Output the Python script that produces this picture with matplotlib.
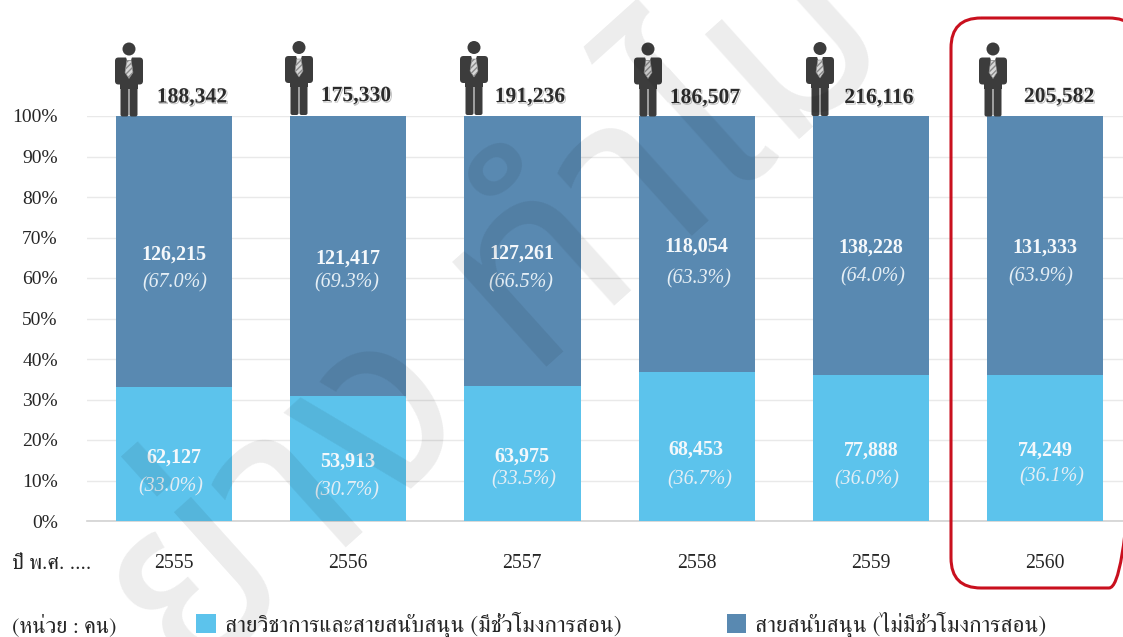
import matplotlib
matplotlib.use('Agg')
import matplotlib.pyplot as plt
import matplotlib.patheffects as pe
from matplotlib.patches import Circle, FancyBboxPatch, Rectangle, Polygon

years = ['2555', '2556', '2557', '2558', '2559', '2560']
totals = [188342, 175330, 191236, 186507, 216116, 205582]
academic = [62127, 53913, 63975, 68453, 77888, 74249]
support = [126215, 121417, 127261, 118054, 138228, 131333]
academic_pct = [33.0, 30.7, 33.5, 36.7, 36.0, 36.1]
support_pct = [67.0, 69.3, 66.5, 63.3, 64.0, 63.9]
academic_name = 'สายวิชาการและสายสนับสนุน (มีชั่วโมงการสอน)'
support_name = 'สายสนับสนุน (ไม่มีชั่วโมงการสอน)'
year_title = 'ปี พ.ศ. ....'
unit_text = '(หน่วย : คน)'
watermark = 'ย่าง ทำไม'

W, H = 1123, 637
LIGHT, DARK = '#5CC3EC', '#5989B1'
SERIF = ['Liberation Serif', 'FreeSerif']
THAI = ['FreeSerif', 'Liberation Serif']
plt.rcParams['font.family'] = SERIF

fig = plt.figure(figsize=(W / 100, H / 100), dpi=100)
fig.patch.set_facecolor('white')

# plot area (pixel layout)
L, R, T, B = 87, 1123, 116, 521
ax = fig.add_axes([L / W, 1 - B / H, (R - L) / W, (B - T) / H])
x = list(range(len(years)))
acad_share = [a / (a + s) * 100 for a, s in zip(academic, support)]
supp_share = [s / (a + s) * 100 for a, s in zip(academic, support)]
b1 = ax.bar(x, acad_share, width=0.667, color=LIGHT, zorder=3, label=academic_name)
b2 = ax.bar(x, supp_share, bottom=acad_share, width=0.667, color=DARK, zorder=3, label=support_name)
ax.set_xlim(-0.5, -0.5 + (R - L) / 174.2)
ax.set_ylim(0, 100)
ax.set_yticks(range(0, 101, 10))
ax.set_yticklabels([f'{v}%' for v in range(0, 101, 10)], fontsize=14, color='#262626')
ax.set_xticks([])
ax.tick_params(axis='y', length=0, pad=21)
ax.grid(axis='y', color='#E9E9E9', lw=1, zorder=0)
ax.set_axisbelow(True)
for s in ['top', 'right', 'left']:
    ax.spines[s].set_visible(False)
ax.spines['bottom'].set_color('#D2D2D2')
ax.spines['bottom'].set_linewidth(1.2)
ax.patch.set_alpha(0)

leg = fig.legend(handles=[b1, b2], loc='lower left', bbox_to_anchor=(187 / W, -11 / H), ncols=2,
                 frameon=False, prop={'family': THAI, 'size': 16.7}, handlelength=0.83, handleheight=0.83,
                 handletextpad=0.39, columnspacing=4.55, borderpad=0.4, borderaxespad=0)
for t in leg.get_texts():
    t.set_color('#262626')

# overlay in image pixels
ov = fig.add_axes([0, 0, 1, 1], zorder=5)
ov.set_xlim(0, W)
ov.set_ylim(H, 0)
ov.axis('off')

centres = [174, 348, 522, 697, 871, 1045]
for c, yr in zip(centres, years):
    ov.text(c, 564, yr, ha='center', va='center', fontsize=14.2, color='#262626')
ov.text(12, 564, year_title, ha='left', va='center', fontsize=15.4, family=THAI, color='#262626')
ov.text(12, 626, unit_text, ha='left', va='center', fontsize=16, family=THAI, color='#262626')

# label positions in pixels
tot_pos = [(192, 97.5), (356, 96), (530, 97), (705, 98), (879, 98), (1059, 97)]
sup_num = [(174, 255), (348, 259), (522, 254), (696, 247), (871, 248), (1045, 248)]
sup_pct = [(175, 283), (347, 283), (521, 283), (699, 279), (873, 277), (1041, 277)]
aca_num = [(174, 458), (348, 462), (522, 457), (696, 450), (871, 451), (1045, 451)]
aca_pct = [(171, 487), (347, 491), (524, 480), (700, 480), (867, 480), (1052, 477)]

shadow = [pe.SimpleLineShadow(offset=(0.8, -0.8), shadow_color='#777777', alpha=0.5, linewidth=0.6), pe.Normal()]
for (px, py), v in zip(tot_pos, totals):
    ov.text(px, py, f'{v:,}', ha='center', va='center', fontsize=15.6, fontweight='bold',
            color='#2B2B2B', path_effects=shadow)
for pos, vals in ((sup_num, support), (aca_num, academic)):
    for (px, py), v in zip(pos, vals):
        ov.text(px, py, f'{v:,}', ha='center', va='center', fontsize=14.4, fontweight='bold', color='#F4F8FB')
for pos, vals in ((sup_pct, support_pct), (aca_pct, academic_pct)):
    for (px, py), v in zip(pos, vals):
        ov.text(px, py, f'({v:.1f}%)', ha='center', va='center', fontsize=14.4, style='italic', color='#E4EEF5')

# person icons
def person(cx, fy):
    c = '#3C3C3C'
    ov.add_patch(Circle((cx, fy - 67.5), 6.5, fc=c, ec='none'))
    ov.add_patch(FancyBboxPatch((cx - 14, fy - 59), 28, 27, boxstyle='round,pad=0,rounding_size=3.5', fc=c, ec='none'))
    ov.add_patch(Rectangle((cx - 9, fy - 50), 18, 22, fc=c, ec='none'))
    ov.add_patch(FancyBboxPatch((cx - 8.5, fy - 32), 8, 32, boxstyle='round,pad=0,rounding_size=2', fc=c, ec='none'))
    ov.add_patch(FancyBboxPatch((cx + 0.5, fy - 32), 8, 32, boxstyle='round,pad=0,rounding_size=2', fc=c, ec='none'))
    ov.add_patch(Polygon([(cx - 3, fy - 59.5), (cx + 3, fy - 59.5), (cx + 2, fy - 56), (cx - 2, fy - 56)], fc='white', ec='none'))
    ov.add_patch(Polygon([(cx - 2.2, fy - 56), (cx + 2.2, fy - 56), (cx + 4, fy - 44), (cx, fy - 38), (cx - 4, fy - 44)],
                         fc='#D8D8D8', ec='#8A8A8A', lw=0.4, hatch='//////'))

for cx, fy in zip([129, 299, 474, 648, 820, 993], [116.5, 115, 115, 116.5, 116, 116.5]):
    person(cx, fy)

# red highlight frame
ov.add_patch(FancyBboxPatch((951, 18), 188, 570, boxstyle='round,pad=0,rounding_size=30',
                            fc='none', ec='#C9101E', lw=2.2, clip_on=True))

# watermark
ov.text(500, 320, watermark, rotation=42, rotation_mode='anchor', ha='center', va='center',
        fontsize=185, family=['Noto Sans Thai', 'FreeSerif'], color='black', alpha=0.075, clip_on=True, zorder=10)

fig.savefig('out.png', dpi=100)
